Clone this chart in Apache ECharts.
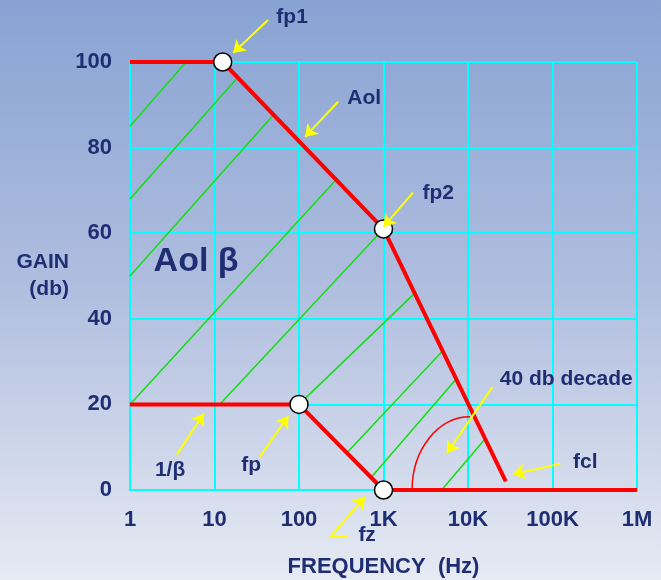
<!DOCTYPE html>
<html><head><meta charset="utf-8">
<script src="https://cdn.jsdelivr.net/npm/echarts@6/dist/echarts.min.js"></script>
<style>html,body{margin:0;padding:0;}#c{width:661px;height:580px;}</style>
</head><body><div id="c"></div>
<script>
// ---- data ----
const freqTickLabels = ['1','10','100','1K','10K','100K','1M'];
const gainTicks = [0,20,40,60,80,100];

const aolFreq = [1, 12.5, 1000, 28000];
const aolGain = [100, 100, 61, 2];
const invBetaFreq = [1, 100, 1000, 1000000];
const invBetaGain = [20, 20, 0, 0];

const pointNames = ['fp1','fp2','fp','fz'];
const pointFreq = [12.5, 1000, 100, 1000];
const pointGain = [100, 61, 20, 0];

const hatchStartFreq = [1, 1, 1, 1, 11.5, 100, 369, 713, 4870];
const hatchStartGain = [85, 68, 50, 20, 20, 20, 8.7, 2.9, 0];
const hatchEndFreq = [4.6, 18.8, 50, 275, 1000, 2350, 5000, 7300, 16000];
const hatchEndGain = [100, 96.4, 87.7, 72.5, 61, 46, 32.5, 26, 12];

// arrows: tail -> tip
const arrowTails = [[43, 109.8], [290, 90.7], [2228, 69.5], [3.57, 8.2], [34.6, 7.8], [233, -11], [19500, 24.1], [123600, 6.1]];
const arrowTips  = [[16.6, 102.1], [118, 82.5], [1000, 61.5], [7.52, 17.9], [74.9, 17.3], [606, -1.6], [5620, 8.6], [34000, 3.7]];
// short horizontal tail stroke of the fz arrow
const fzTail = [[371, -11], [233, -11]];

const labelText = ['fp1','Aol','fp2','Aol β','1/β','fp','fz','40 db decade','fcl'];
const labelFreq = [82.8, 590, 4436, 6.05, 2.98, 27.1, 640, 145500, 244000];
const labelGain = [110.5, 91.6, 69.4, 53.3, 4.7, 5.8, -10.5, 25.9, 6.5];
const labelBig = [false,false,false,true,false,false,false,false,false];

// arc marking the 40 db/decade slope: centre, left end, top end (data coords)
const arcCenter = [10600, 0];
const arcLeftFreq = 2180;
const arcTopGain = 17.1;

// ---- chart ----
const navy = '#1f2e72';
const font = 'Liberation Sans, Arial, sans-serif';
const chart = echarts.init(document.getElementById('c'));

const zip = (a, b) => a.map((v, i) => [v, b[i]]);

chart.setOption({
  animation: false,
  backgroundColor: {
    type: 'linear', x: 0, y: 0, x2: 0, y2: 1,
    colorStops: [
      {offset: 0, color: '#88a3d3'},
      {offset: 0.5, color: '#b0bedf'},
      {offset: 1, color: '#e6eaf3'}
    ]
  },
  grid: {left: 130, right: 24, top: 62, bottom: 90, containLabel: false, outerBoundsMode: 'none'},
  xAxis: {
    type: 'log', logBase: 10, min: 1, max: 1000000, splitNumber: 6,
    name: 'FREQUENCY  (Hz)', nameLocation: 'middle', nameGap: 66,
    nameTextStyle: {color: navy, fontSize: 22, fontWeight: 'bold', fontFamily: font},
    axisLine: {show: true, lineStyle: {color: '#00ffff', width: 2}},
    axisTick: {show: false},
    axisLabel: {
      color: navy, fontSize: 22, fontWeight: 'bold', fontFamily: font, margin: 19,
      formatter: v => freqTickLabels[Math.round(Math.log10(v))]
    },
    splitLine: {show: true, lineStyle: {color: '#00ffff', width: 2}}
  },
  yAxis: {
    type: 'value', min: gainTicks[0], max: gainTicks[gainTicks.length - 1], interval: 20,
    name: 'GAIN\n(db)', nameLocation: 'middle', nameRotate: 0, nameGap: 61,
    nameTextStyle: {color: navy, fontSize: 21, fontWeight: 'bold', fontFamily: font, lineHeight: 27,
                    align: 'right', padding: [6, 0, 0, 0]},
    axisLine: {show: true, lineStyle: {color: '#00ffff', width: 2}},
    axisTick: {show: false},
    axisLabel: {color: navy, fontSize: 22, fontWeight: 'bold', fontFamily: font, margin: 18},
    splitLine: {show: true, lineStyle: {color: '#00ffff', width: 2}}
  },
  series: [
    {
      type: 'lines', coordinateSystem: 'cartesian2d', z: 2, silent: true,
      lineStyle: {color: '#11e011', width: 1.5, opacity: 1, curveness: 0},
      data: hatchStartFreq.map((f, i) => ({coords: [[f, hatchStartGain[i]], [hatchEndFreq[i], hatchEndGain[i]]]}))
    },
    {
      type: 'line', data: zip(aolFreq, aolGain), showSymbol: false, clip: false, z: 3,
      lineStyle: {color: '#ff0000', width: 4}
    },
    {
      type: 'line', data: zip(invBetaFreq, invBetaGain), showSymbol: false, clip: false, z: 3,
      lineStyle: {color: '#ff0000', width: 4}
    },
    {
      type: 'scatter', z: 7, clip: false, symbolSize: 18,
      itemStyle: {color: '#ffffff', borderColor: '#000000', borderWidth: 1.5, opacity: 1},
      data: pointNames.map((n, i) => ({name: n, value: [pointFreq[i], pointGain[i]]}))
    },
    {
      type: 'lines', coordinateSystem: 'cartesian2d', clip: false, z: 9, silent: true,
      symbol: ['none', 'arrow'], symbolSize: 12,
      lineStyle: {color: '#ffff00', width: 2, opacity: 1, curveness: 0},
      data: arrowTails.map((p, i) => ({coords: [p, arrowTips[i]]}))
    },
    {
      type: 'lines', coordinateSystem: 'cartesian2d', clip: false, z: 9, silent: true,
      symbol: ['none', 'none'],
      lineStyle: {color: '#ffff00', width: 2, opacity: 1, curveness: 0},
      data: [{coords: fzTail}]
    },
    {
      type: 'scatter', z: 10, clip: false, symbolSize: 1, silent: true,
      itemStyle: {color: 'rgba(0,0,0,0)', opacity: 1},
      label: {show: true, position: 'inside', formatter: p => p.name, color: navy, opacity: 1,
              fontWeight: 'bold', fontFamily: font},
      data: labelText.map((t, i) => ({
        name: t, value: [labelFreq[i], labelGain[i]],
        label: {fontSize: labelBig[i] ? 34 : 21}
      }))
    }
  ]
});

const c = chart.convertToPixel({gridIndex: 0}, arcCenter);
const l = chart.convertToPixel({gridIndex: 0}, [arcLeftFreq, arcCenter[1]]);
const t = chart.convertToPixel({gridIndex: 0}, [arcCenter[0], arcTopGain]);
const rx = c[0] - l[0], ry = c[1] - t[1], k = 0.5523;
chart.setOption({
  graphic: [{
    type: 'bezierCurve', z: 4, silent: true,
    shape: {x1: l[0], y1: l[1], x2: t[0], y2: t[1],
            cpx1: l[0], cpy1: c[1] - k * ry, cpx2: c[0] - k * rx, cpy2: t[1]},
    style: {fill: null, stroke: '#ff0000', lineWidth: 1.5}
  }]
});
</script>
</body></html>
